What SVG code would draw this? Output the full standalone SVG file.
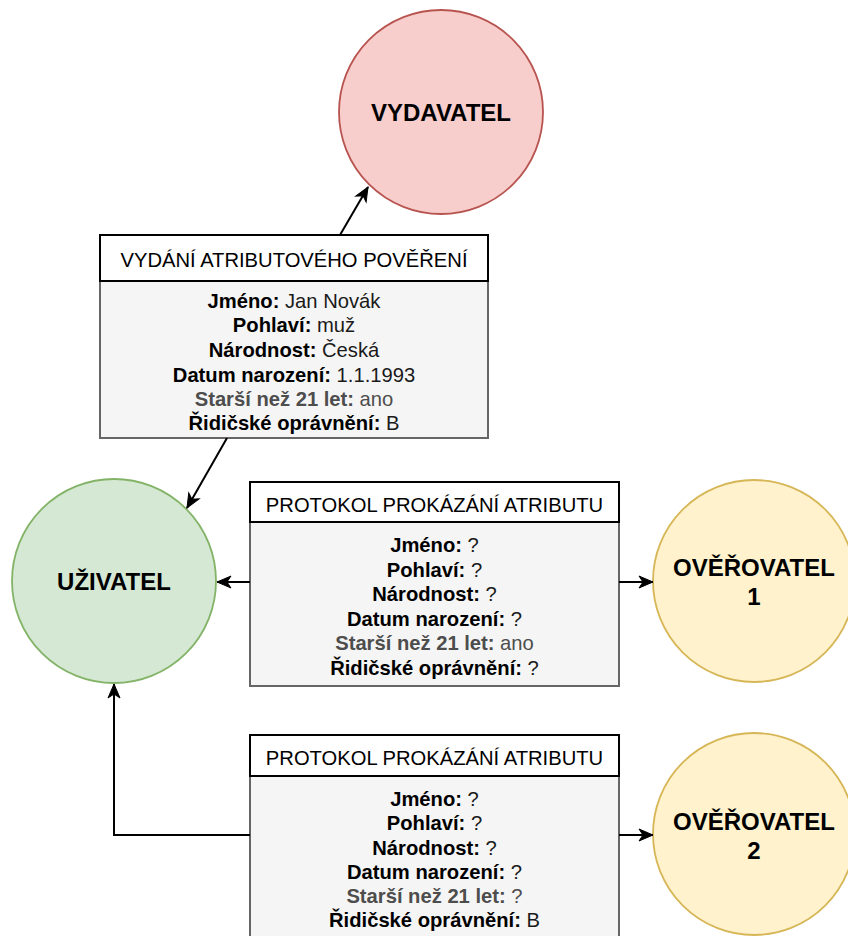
<svg xmlns="http://www.w3.org/2000/svg" width="848" height="936" viewBox="0 0 848 936">
<defs>
<style>
text{font-family:"Liberation Sans",Arial,Helvetica,sans-serif;}
.circ{font-size:24px;font-weight:bold;fill:#000;text-anchor:middle;}
.ttl{font-size:20.2px;fill:#000;text-anchor:middle;}
.body{font-size:20.2px;fill:#1a1a1a;text-anchor:middle;}
.b{font-weight:bold;fill:#000;}
.g{fill:#4d4d4d;}
.gb{font-weight:bold;fill:#4d4d4d;}
.head{fill:#ffffff;stroke:#000;stroke-width:2;}
.pane{fill:#f5f5f5;stroke:#666666;stroke-width:2;}
.edge{fill:none;stroke:#000;stroke-width:2;}
</style>
<marker id="arr" markerUnits="userSpaceOnUse" markerWidth="16" markerHeight="14" refX="14" refY="6" orient="auto" overflow="visible">
<path d="M0,0 L14,6 L0,12 L4,6 Z" fill="#000" stroke="#000" stroke-width="1"/>
</marker>
</defs>

<g id="vydavatel">
<circle cx="441" cy="112" r="102" fill="#f8cecc" stroke="#b85450" stroke-width="1.8"/>
<text class="circ" x="441" y="121">VYDAVATEL</text>
</g>

<g id="uzivatel">
<circle cx="114" cy="581" r="102" fill="#d5e8d4" stroke="#82b366" stroke-width="1.8"/>
<text class="circ" x="114" y="590">UŽIVATEL</text>
</g>

<g id="overovatel1">
<circle cx="754" cy="581" r="101" fill="#fff2cc" stroke="#d6b656" stroke-width="1.8"/>
<text class="circ" x="754" y="576">OVĚŘOVATEL</text>
<text class="circ" x="754" y="605">1</text>
</g>

<g id="overovatel2">
<circle cx="754" cy="834" r="101" fill="#fff2cc" stroke="#d6b656" stroke-width="1.8"/>
<text class="circ" x="754" y="830">OVĚŘOVATEL</text>
<text class="circ" x="754" y="859">2</text>
</g>

<g id="vydani">
<rect class="pane" x="100" y="281" width="388" height="157"/>
<rect class="head" x="100" y="235" width="388" height="46"/>
<text class="ttl" x="294" y="267">VYDÁNÍ ATRIBUTOVÉHO POVĚŘENÍ</text>
<text class="body" x="294" y="308"><tspan class="b">Jméno:</tspan> Jan Novák</text>
<text class="body" x="294" y="332"><tspan class="b">Pohlaví:</tspan> muž</text>
<text class="body" x="294" y="357"><tspan class="b">Národnost:</tspan> Česká</text>
<text class="body" x="294" y="382"><tspan class="b">Datum narození:</tspan> 1.1.1993</text>
<text class="body" x="294" y="406"><tspan class="gb">Starší než 21 let:</tspan><tspan class="g"> ano</tspan></text>
<text class="body" x="294" y="430"><tspan class="b">Řidičské oprávnění:</tspan> B</text>
</g>

<g id="protokol1">
<rect class="pane" x="250" y="522" width="369" height="164"/>
<rect class="head" x="250" y="482" width="369" height="40"/>
<text class="ttl" x="434.5" y="512">PROTOKOL PROKÁZÁNÍ ATRIBUTU</text>
<text class="body" x="434.5" y="552"><tspan class="b">Jméno:</tspan> ?</text>
<text class="body" x="434.5" y="577"><tspan class="b">Pohlaví:</tspan> ?</text>
<text class="body" x="434.5" y="601"><tspan class="b">Národnost:</tspan> ?</text>
<text class="body" x="434.5" y="626"><tspan class="b">Datum narození:</tspan> ?</text>
<text class="body" x="434.5" y="650"><tspan class="gb">Starší než 21 let:</tspan><tspan class="g"> ano</tspan></text>
<text class="body" x="434.5" y="675"><tspan class="b">Řidičské oprávnění:</tspan> ?</text>
</g>

<g id="protokol2">
<rect class="pane" x="250" y="776" width="369" height="170"/>
<rect class="head" x="250" y="735" width="369" height="41"/>
<text class="ttl" x="434.5" y="765">PROTOKOL PROKÁZÁNÍ ATRIBUTU</text>
<text class="body" x="434.5" y="806"><tspan class="b">Jméno:</tspan> ?</text>
<text class="body" x="434.5" y="830"><tspan class="b">Pohlaví:</tspan> ?</text>
<text class="body" x="434.5" y="855"><tspan class="b">Národnost:</tspan> ?</text>
<text class="body" x="434.5" y="879"><tspan class="b">Datum narození:</tspan> ?</text>
<text class="body" x="434.5" y="903"><tspan class="gb">Starší než 21 let:</tspan><tspan class="g"> ?</tspan></text>
<text class="body" x="434.5" y="927"><tspan class="b">Řidičské oprávnění:</tspan> B</text>
</g>

<g id="connectors">
<path class="edge" d="M340,235 L368,187" marker-end="url(#arr)"/>
<path class="edge" d="M227,438 L187,508" marker-end="url(#arr)"/>
<path class="edge" d="M250,582 L217,582" marker-end="url(#arr)"/>
<path class="edge" d="M619,582 L653,582" marker-end="url(#arr)"/>
<path class="edge" d="M250,835 L114,835 L114,684" marker-end="url(#arr)"/>
<path class="edge" d="M619,835 L653,835" marker-end="url(#arr)"/>
</g>
</svg>
